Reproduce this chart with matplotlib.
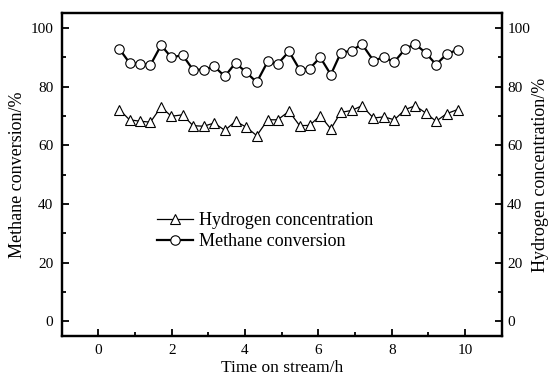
import numpy as np
import matplotlib.pyplot as plt

plt.rcParams['font.family'] = ['Liberation Serif', 'DejaVu Serif']

# time on stream (h)
time_h = [0.57, 0.85, 1.14, 1.42, 1.71, 1.99, 2.30, 2.58, 2.87, 3.16, 3.45,
          3.74, 4.02, 4.32, 4.62, 4.89, 5.20, 5.49, 5.76, 6.05, 6.34, 6.61,
          6.91, 7.19, 7.50, 7.79, 8.07, 8.37, 8.64, 8.93, 9.21, 9.50, 9.80]

# methane conversion (%)
methane = [92.9, 88.1, 87.7, 87.4, 94.1, 90.0, 90.7, 85.8, 85.8, 86.9, 83.5,
           88.1, 85.0, 81.5, 88.6, 87.7, 92.0, 85.8, 86.1, 90.0, 84.1, 91.5,
           92.3, 94.5, 88.9, 90.0, 88.4, 92.9, 94.5, 91.5, 87.5, 91.1, 92.6]

# hydrogen concentration (%)
hydrogen = [72.2, 68.7, 68.2, 67.9, 73.1, 69.9, 70.4, 66.7, 66.5, 67.6, 65.1,
            68.2, 66.3, 63.3, 68.7, 68.7, 71.6, 66.7, 66.8, 70.1, 65.6, 71.2,
            71.9, 73.5, 69.3, 69.7, 68.7, 72.2, 73.5, 71.0, 68.2, 70.8, 72.2]

fig = plt.figure(figsize=(5.48, 3.81), dpi=100)
ax = fig.add_axes([0.1126, 0.1181, 0.8029, 0.847])
ax2 = ax.twinx()

l1, = ax2.plot(time_h, hydrogen, color='black', lw=0.9, marker='^', ms=7.5,
               mfc='white', mec='black', mew=0.8)
l2, = ax.plot(time_h, methane, color='black', lw=1.6, marker='o', ms=6.8,
              mfc='white', mec='black', mew=0.8)

for a in (ax, ax2):
    a.set_xlim(-1, 11)
    a.set_ylim(-5, 105)
    a.set_yticks(np.arange(0, 101, 20))
    a.set_yticks(np.arange(10, 101, 20), minor=True)
    for s in a.spines.values():
        s.set_linewidth(1.6)

ax.set_xticks(np.arange(0, 11, 2))
ax.set_xticks(np.arange(1, 11, 2), minor=True)
ax.tick_params(which='both', direction='in', top=False, labelsize=11, width=1.3)
ax.tick_params(which='major', length=5, pad=6)
ax.tick_params(which='minor', length=3)
ax2.tick_params(which='both', direction='in', labelsize=11, width=1.3)
ax2.tick_params(which='major', length=5, pad=4)
ax2.tick_params(which='minor', length=3)

ax.set_xlabel('Time on stream/h', fontsize=12.5, labelpad=2)
ax.set_ylabel('Methane conversion/%', fontsize=13, labelpad=3)
ax2.set_ylabel('Hydrogen concentration/%', fontsize=13, labelpad=1)

ax.legend([l1, l2], ['Hydrogen concentration', 'Methane conversion'],
          loc='center left', bbox_to_anchor=(0.18, 0.325), frameon=False,
          fontsize=13, handlelength=2.0, handletextpad=0.3, labelspacing=0.2)

fig.savefig('out.png', dpi=100)
